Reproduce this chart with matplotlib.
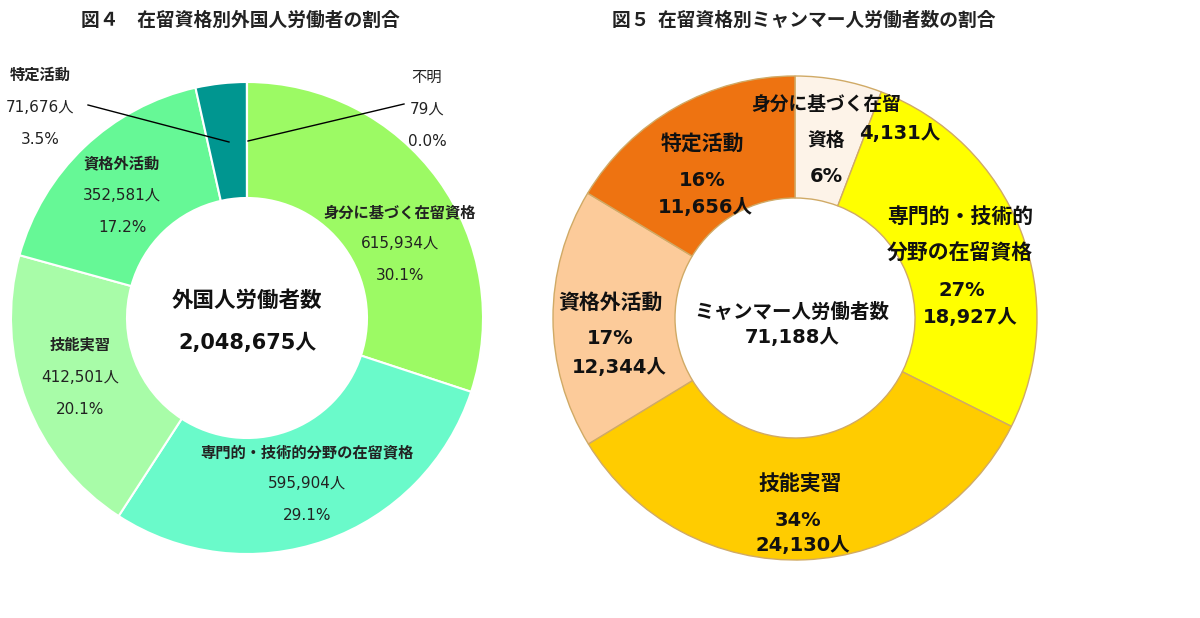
import matplotlib.pyplot as plt

plt.rcParams['font.family'] = ['Noto Sans CJK JP', 'DejaVu Sans']
NUM_FONT = ['DejaVu Sans', 'Noto Sans CJK JP']

# Figure 4: all foreign workers
left_names = ["身分に基づく在留資格", "専門的・技術的分野の在留資格", "技能実習",
              "資格外活動", "特定活動", "不明"]
left_values = [615934, 595904, 412501, 352581, 71676, 79]
left_pcts = ["30.1%", "29.1%", "20.1%", "17.2%", "3.5%", "0.0%"]
left_colors = ["#9cfa64", "#6afaca", "#a8fca8", "#66f896", "#009690", "#e0e0e0"]
left_total = 2048675

# Figure 5: Myanmar workers
right_names = ["身分に基づく在留資格", "専門的・技術的分野の在留資格", "技能実習",
               "資格外活動", "特定活動"]
right_values = [4131, 18927, 24130, 12344, 11656]
right_pcts = ["6%", "27%", "34%", "17%", "16%"]
right_colors = ["#fdf3e8", "#ffff00", "#ffcc00", "#fccb9a", "#ee7311"]
right_total = 71188

H = 618


def Y(y):
    return H - y


fig = plt.figure(figsize=(12, 6.18), dpi=100)
ax = fig.add_axes([0, 0, 1, 1])

# left donut
ax.pie(left_values, colors=left_colors, startangle=90, counterclock=False,
       center=(247, Y(318)), radius=236,
       wedgeprops=dict(width=116, edgecolor="white", linewidth=1.5))

# right donut
ax.pie(right_values, colors=right_colors, startangle=90, counterclock=False,
       center=(795, Y(318)), radius=242,
       wedgeprops=dict(width=122, edgecolor="#d0aa66", linewidth=1.0))

ax.set_xlim(0, 1200)
ax.set_ylim(0, H)
ax.axis("off")

# titles
ax.text(240, Y(20), "図４　在留資格別外国人労働者の割合", ha="center", va="center",
        fontsize=13.5, fontweight="bold", color="#222222")
ax.text(804, Y(20), "図５  在留資格別ミャンマー人労働者数の割合", ha="center", va="center",
        fontsize=13.5, fontweight="bold", color="#222222")

# left labels
left_pos = [(400, 212), (307, 452), (80, 345), (122, 163), (40, 75), (427, 77)]
for i, (x, y) in enumerate(left_pos):
    bold = "bold" if i < 5 else "normal"
    ax.text(x, Y(y), left_names[i], ha="center", va="center", fontsize=11,
            fontweight=bold, color="#222222")
    ax.text(x, Y(y + 32), f"{left_values[i]:,}人", ha="center", va="center",
            fontsize=11, family=NUM_FONT, color="#222222")
    ax.text(x, Y(y + 64), left_pcts[i], ha="center", va="center",
            fontsize=11, family=NUM_FONT, color="#222222")

ax.plot([88, 229], [Y(105), Y(142)], color="black", lw=1)
ax.plot([404, 248], [Y(104), Y(141)], color="black", lw=1)

ax.text(247, Y(300), "外国人労働者数", ha="center", va="center",
        fontsize=15.5, fontweight="bold", color="#111111")
ax.text(247, Y(343), f"{left_total:,}人", ha="center", va="center",
        fontsize=15, fontweight="bold", family=NUM_FONT, color="#111111")

# right labels
bk = dict(ha="center", va="center", fontsize=15, fontweight="bold", color="#111111")
nk = dict(ha="center", va="center", fontsize=14, fontweight="bold", color="#111111",
          family=NUM_FONT)
ax.text(826, Y(104), "身分に基づく在留", ha="center", va="center", fontsize=13.5,
        fontweight="bold", color="#111111")
ax.text(826, Y(140), "資格", ha="center", va="center", fontsize=13.5,
        fontweight="bold", color="#111111")
ax.text(900, Y(133), f"{right_values[0]:,}人", **nk)
ax.text(826, Y(176), right_pcts[0], **nk)

ax.text(960, Y(216), "専門的・技術的", **bk)
ax.text(960, Y(252), "分野の在留資格", **bk)
ax.text(962, Y(290), right_pcts[1], **nk)
ax.text(970, Y(318), f"{right_values[1]:,}人", **nk)

ax.text(800, Y(483), right_names[2], **bk)
ax.text(798, Y(520), right_pcts[2], **nk)
ax.text(803, Y(545), f"{right_values[2]:,}人", **nk)

ax.text(610, Y(302), right_names[3], **bk)
ax.text(610, Y(338), right_pcts[3], **nk)
ax.text(619, Y(367), f"{right_values[3]:,}人", **nk)

ax.text(702, Y(143), right_names[4], **bk)
ax.text(702, Y(181), right_pcts[4], **nk)
ax.text(705, Y(207), f"{right_values[4]:,}人", **nk)

ax.text(792, Y(312), "ミャンマー人労働者数", ha="center", va="center",
        fontsize=14, fontweight="bold", color="#111111")
ax.text(792, Y(337), f"{right_total:,}人", **nk)

fig.savefig("out.png", dpi=100)
